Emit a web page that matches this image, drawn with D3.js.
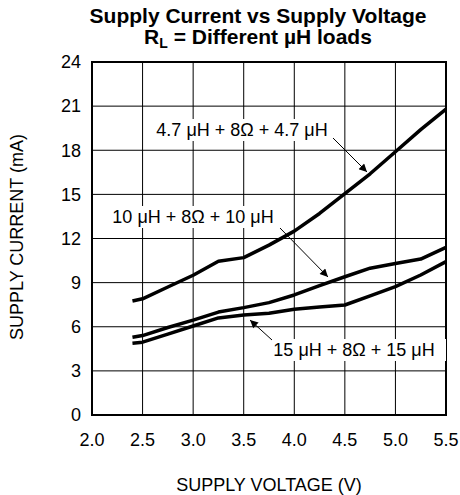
<!DOCTYPE html>
<html><head><meta charset="utf-8">
<script src="https://cdn.jsdelivr.net/npm/d3@7"></script>
<style>body{margin:0;background:#fff}svg{display:block;font-family:Arial,"Liberation Sans",sans-serif}</style>
</head><body><svg id="c" width="460" height="495"></svg>
<script>
const xTicks = [2.0, 2.5, 3.0, 3.5, 4.0, 4.5, 5.0, 5.5];
const yTicks = [0, 3, 6, 9, 12, 15, 18, 21, 24];
const voltage = [2.4, 2.5, 2.75, 3.0, 3.25, 3.5, 3.75, 4.0, 4.25, 4.5, 4.75, 5.0, 5.25, 5.5];
const current47 = [7.75, 7.9, 8.7, 9.5, 10.45, 10.7, 11.55, 12.5, 13.7, 15.05, 16.4, 17.9, 19.4, 20.8];
const current10 = [5.28, 5.4, 5.95, 6.45, 7.0, 7.3, 7.64, 8.16, 8.8, 9.4, 9.98, 10.3, 10.6, 11.4];
const current15 = [4.88, 4.95, 5.5, 6.05, 6.6, 6.8, 6.92, 7.19, 7.35, 7.48, 8.1, 8.73, 9.52, 10.43];
const labels = ["4.7 μH + 8Ω + 4.7 μH", "10 μH + 8Ω + 10 μH", "15 μH + 8Ω + 15 μH"];

const svg = d3.select("#c");
const L = 92, R = 446, T = 62, B = 415;
const x = d3.scaleLinear().domain([2.0, 5.5]).range([L, R]);
const y = d3.scaleLinear().domain([0, 24]).range([B, T]);

// grid
svg.append("g").selectAll("line").data(xTicks).join("line")
  .attr("x1", d => x(d)).attr("x2", d => x(d)).attr("y1", T).attr("y2", B)
  .attr("stroke", "#000").attr("stroke-width", 1);
svg.append("g").selectAll("line").data(yTicks).join("line")
  .attr("x1", L).attr("x2", R).attr("y1", d => y(d)).attr("y2", d => y(d))
  .attr("stroke", "#000").attr("stroke-width", 1);
svg.append("rect").attr("x", L).attr("y", T).attr("width", R - L).attr("height", B - T)
  .attr("fill", "none").attr("stroke", "#000").attr("stroke-width", 2);

// tick labels
svg.append("g").selectAll("text").data(yTicks).join("text")
  .attr("x", L - 11).attr("y", d => y(d)).attr("dy", "0.35em").attr("text-anchor", "end")
  .attr("font-size", 18).text(d => d);
svg.append("g").selectAll("text").data(xTicks).join("text")
  .attr("x", d => x(d)).attr("y", B + 25).attr("dy", "0.35em").attr("text-anchor", "middle")
  .attr("font-size", 18).text(d => d.toFixed(1));

// axis titles
svg.append("text").attr("x", 269).attr("y", 485).attr("dy", "0.35em").attr("text-anchor", "middle")
  .attr("font-size", 18).text("SUPPLY VOLTAGE (V)");
svg.append("text").attr("transform", "translate(17,237) rotate(-90)").attr("dy", "0.35em")
  .attr("text-anchor", "middle").attr("font-size", 18).text("SUPPLY CURRENT (mA)");

// title
svg.append("text").attr("x", 258).attr("y", 23).attr("text-anchor", "middle")
  .attr("font-size", 21).attr("font-weight", "bold").text("Supply Current vs Supply Voltage");
const t2 = svg.append("text").attr("x", 258).attr("y", 44).attr("text-anchor", "middle")
  .attr("font-size", 21).attr("font-weight", "bold");
t2.append("tspan").text("R");
t2.append("tspan").attr("font-size", 14).attr("dy", 4).text("L");
t2.append("tspan").attr("dy", -4).text(" = Different µH loads");

// curves
const line = d3.line().x((d, i) => x(voltage[i])).y(d => y(d));
[current47, current10, current15].forEach(s => {
  svg.append("path").attr("d", line(s)).attr("fill", "none").attr("stroke", "#000")
    .attr("stroke-width", 3.5).attr("stroke-linejoin", "round");
});

// annotations
const defs = svg.append("defs");
defs.append("marker").attr("id", "ah").attr("viewBox", "0 0 10 10").attr("refX", 10).attr("refY", 5)
  .attr("markerWidth", 12).attr("markerHeight", 8).attr("markerUnits", "userSpaceOnUse").attr("orient", "auto")
  .append("path").attr("d", "M0,0 L10,5 L0,10 Z").attr("fill", "#000");

const ann = [
  {t: labels[0], tx: 242, ty: 130, a: [333, 138, 367, 172]},
  {t: labels[1], tx: 193, ty: 217, a: [280, 228, 328, 277]},
  {t: labels[2], tx: 354, ty: 350, a: [272, 340, 250, 320]}
];
ann.forEach(d => {
  svg.append("rect").attr("x", d.tx - 92).attr("y", d.ty - 11).attr("width", 184).attr("height", 22).attr("fill", "#fff");
  svg.append("text").attr("x", d.tx).attr("y", d.ty).attr("dy", "0.35em").attr("text-anchor", "middle")
    .attr("font-size", 18).text(d.t);
  svg.append("line").attr("x1", d.a[0]).attr("y1", d.a[1]).attr("x2", d.a[2]).attr("y2", d.a[3])
    .attr("stroke", "#000").attr("stroke-width", 1).attr("marker-end", "url(#ah)");
});
</script></body></html>
